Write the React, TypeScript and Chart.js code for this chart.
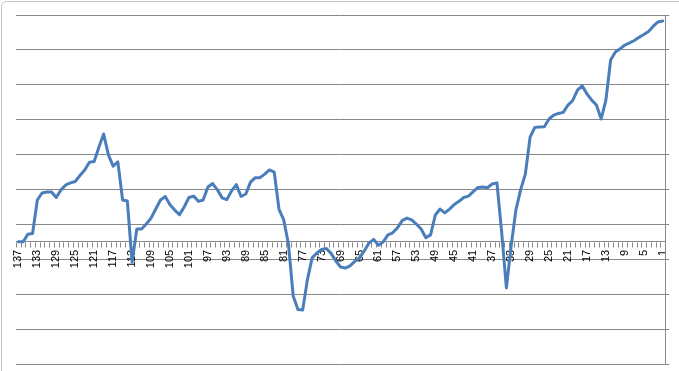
import React, { useEffect, useRef } from "react";
import { Chart, registerables } from "chart.js";

Chart.register(...registerables);

const categories: string[] = [
  "137","136","135","134","133","132","131","130","129","128","127","126","125","124","123","122","121","120","119","118",
  "117","116","115","114","113","112","111","110","109","108","107","106","105","104","103","102","101","100","99","98",
  "97","96","95","94","93","92","91","90","89","88","87","86","85","84","83","82","81","80","79","78",
  "77","76","75","74","73","72","71","70","69","68","67","66","65","64","63","62","61","60","59","58",
  "57","56","55","54","53","52","51","50","49","48","47","46","45","44","43","42","41","40","39","38",
  "37","36","35","34","33","32","31","30","29","28","27","26","25","24","23","22","21","20","19","18",
  "17","16","15","14","13","12","11","10","9","8","7","6","5","4","3","2","1"
];

const values: number[] = [
  3.50, 3.50, 3.72, 3.74, 4.70, 4.90, 4.93, 4.93, 4.77, 4.99,
  5.13, 5.19, 5.23, 5.40, 5.56, 5.78, 5.80, 6.22, 6.59, 5.99,
  5.67, 5.79, 4.70, 4.67, 2.92, 3.87, 3.87, 4.01, 4.18, 4.44,
  4.70, 4.80, 4.56, 4.41, 4.28, 4.50, 4.77, 4.81, 4.66, 4.70,
  5.07, 5.17, 4.99, 4.76, 4.71, 4.96, 5.14, 4.80, 4.87, 5.21,
  5.34, 5.34, 5.44, 5.56, 5.50, 4.44, 4.13, 3.44, 1.95, 1.56,
  1.55, 2.41, 3.04, 3.18, 3.28, 3.31, 3.17, 2.95, 2.78, 2.75,
  2.81, 2.94, 3.04, 3.24, 3.47, 3.57, 3.40, 3.50, 3.70, 3.76,
  3.90, 4.11, 4.18, 4.13, 4.01, 3.87, 3.62, 3.70, 4.27, 4.44,
  4.33, 4.44, 4.57, 4.66, 4.77, 4.81, 4.94, 5.06, 5.07, 5.05,
  5.16, 5.19, 3.78, 2.18, 3.38, 4.41, 4.99, 5.44, 6.50, 6.78,
  6.79, 6.80, 7.02, 7.13, 7.18, 7.21, 7.42, 7.55, 7.85, 7.97,
  7.74, 7.56, 7.42, 7.02, 7.56, 8.71, 8.94, 9.03, 9.14, 9.20,
  9.27, 9.36, 9.44, 9.53, 9.68, 9.80, 9.83
];

const yMin = 0;
const yMax = 10;
const yStep = 1;
const axisCross = 3.5;
const labelEvery = 4;

const GRID = "#878787";
const LINE = "#4A7EBB";
const TICK_LEN = 5;

const frame = {
  id: "frame",
  beforeDraw(chart: any) {
    const ctx = chart.ctx;
    ctx.save();
    ctx.fillStyle = "#ffffff";
    ctx.fillRect(0, 0, chart.width, chart.height);
    ctx.strokeStyle = "#c4c4c4";
    ctx.lineWidth = 1;
    ctx.beginPath();
    const r = 5;
    ctx.moveTo(1.5, chart.height + 5);
    ctx.lineTo(1.5, 1.5 + r);
    ctx.arcTo(1.5, 1.5, 1.5 + r, 1.5, r);
    ctx.lineTo(chart.width + 5, 1.5);
    ctx.stroke();
    ctx.restore();
  },
};

// Category-boundary tick marks hanging below the crossing axis line
const downTicks = {
  id: "downTicks",
  beforeDatasetsDraw(chart: any) {
    const xs = chart.scales.x;
    const ys = chart.scales.y;
    const ctx = chart.ctx;
    const yAxis = Math.round(ys.getPixelForValue(axisCross)) + 0.5;
    const n = categories.length;
    const half = (xs.getPixelForValue(1) - xs.getPixelForValue(0)) / 2;
    ctx.save();
    ctx.strokeStyle = GRID;
    ctx.lineWidth = 1;
    ctx.beginPath();
    for (let i = 0; i <= n; i++) {
      const px = Math.round(xs.getPixelForValue(i) - half) + 0.5;
      ctx.moveTo(px, yAxis);
      ctx.lineTo(px, yAxis + TICK_LEN);
    }
    ctx.stroke();
    ctx.restore();
  },
};

export default function App() {
  const ref = useRef<HTMLCanvasElement | null>(null);
  useEffect(() => {
    if (!ref.current) return;
    const chart = new Chart(ref.current, {
      type: "line",
      data: {
        labels: categories,
        datasets: [
          {
            data: values,
            borderColor: LINE,
            borderWidth: 3,
            pointRadius: 0,
            tension: 0,
            fill: false,
            borderJoinStyle: "round",
            borderCapStyle: "round",
          },
        ],
      },
      options: {
        animation: false,
        responsive: false,
        maintainAspectRatio: false,
        events: [],
        layout: { padding: { left: 16, top: 15, right: 8, bottom: 7 } },
        plugins: {
          legend: { display: false },
          tooltip: { enabled: false },
          title: { display: false },
        },
        scales: {
          x: {
            type: "category",
            offset: true,
            position: { y: axisCross } as any,
            grid: {
              display: true,
              drawOnChartArea: false,
              drawTicks: true,
              tickLength: TICK_LEN,
              offset: true,
              color: "rgba(0,0,0,0)",
            },
            border: { display: true, color: GRID, width: 1 },
            ticks: {
              autoSkip: false,
              maxRotation: 90,
              minRotation: 90,
              padding: 3,
              color: "#000000",
              font: { family: "'Liberation Sans', Arial, sans-serif", size: 11 },
              callback: (_v: any, idx: number) =>
                idx % labelEvery === 0 ? categories[idx] : "",
            },
          },
          y: {
            type: "linear",
            position: "right",
            min: yMin,
            max: yMax,
            grid: {
              display: true,
              drawTicks: true,
              tickLength: 4,
              color: GRID,
              lineWidth: 1,
            },
            border: { display: true, color: GRID, width: 1 },
            ticks: { display: false, stepSize: yStep },
          },
        },
      },
      plugins: [frame, downTicks],
    });
    return () => chart.destroy();
  }, []);
  return (
    <div style={{ position: "fixed", left: 0, top: 0, width: 679, height: 371, background: "#fff" }}>
      <canvas ref={ref} width={679} height={371} style={{ display: "block", width: 679, height: 371 }} />
    </div>
  );
}
